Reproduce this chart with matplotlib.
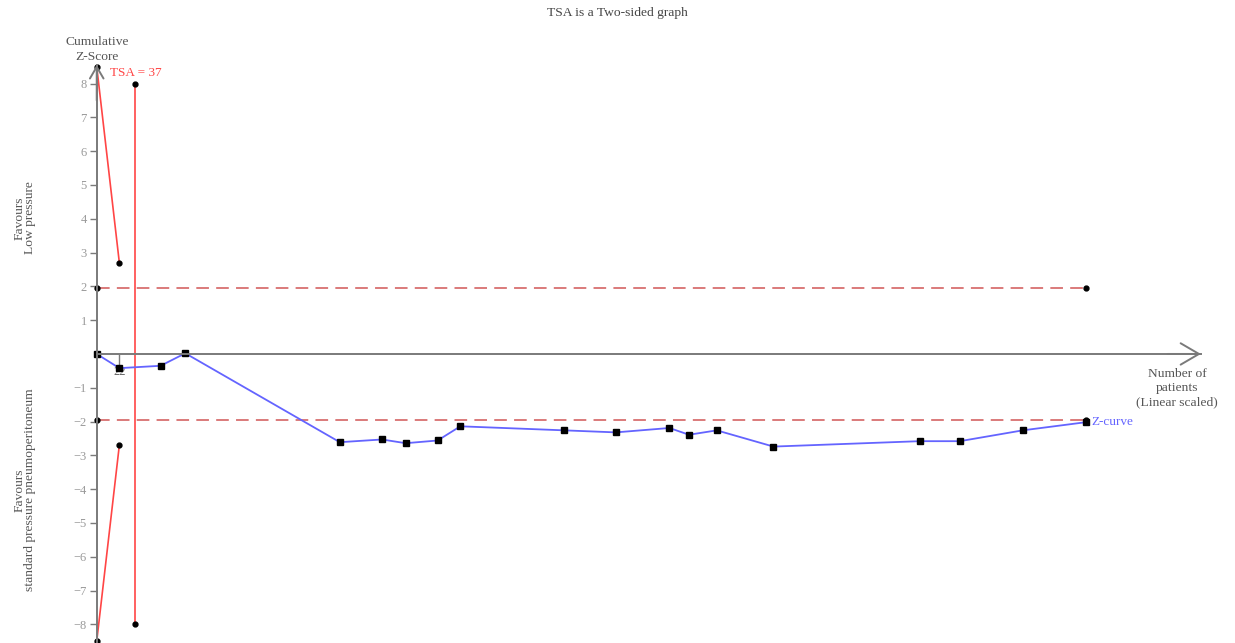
# Trial sequential analysis chart - two-sided boundaries with cumulative Z-curve
import numpy as np
import matplotlib.pyplot as plt

plt.rcParams['font.family'] = ['Liberation Serif', 'DejaVu Serif']

# cumulative number of patients and cumulative Z-score
patients = [0, 22, 62, 86, 236, 277, 300, 331, 353, 454, 504, 556, 575, 602, 657, 799, 838, 899, 960]
zscores = [0, -0.42, -0.35, 0.02, -2.61, -2.53, -2.64, -2.56, -2.14, -2.26, -2.32, -2.19,
           -2.39, -2.26, -2.74, -2.58, -2.58, -2.26, -2.02]

# monitoring boundaries (upper and lower, two-sided)
bound_x = [0, 22]
bound_upper = [8.5, 2.69]
bound_lower = [-8.5, -2.69]

# conventional significance line
conv_x = [0, 960]
conv_z = 1.96

# required information size
tsa = 37
tsa_z = 8

yticks = [-8, -7, -6, -5, -4, -3, -2, -1, 1, 2, 3, 4, 5, 6, 7, 8]
xticks = [22]

red = '#ff4545'
blue = '#6464ff'
dash_red = '#d87070'
grey = '#7a7a7a'
fs = 9.7


def main():
    fig = plt.figure(figsize=(12.35, 6.43), dpi=100)
    ax = fig.add_axes([0, 0, 1, 1])
    ax.set_xlim(-93.9, 1105.1)
    ax.set_ylim(-8.55, 10.47)

    # axes through the origin
    for side in ['top', 'right']:
        ax.spines[side].set_visible(False)
    ax.spines['left'].set_position(('data', 0))
    ax.spines['bottom'].set_position(('data', 0))
    ax.spines['left'].set_bounds(-8.55, 8.55)
    ax.spines['bottom'].set_bounds(0, 1072)
    for side in ['left', 'bottom']:
        ax.spines[side].set_color(grey)
        ax.spines[side].set_linewidth(1.4)
    ax.annotate('', xy=(0, 8.55), xytext=(0, 7.5),
                arrowprops=dict(arrowstyle='->,head_length=0.6,head_width=0.35',
                                color=grey, lw=1.4, mutation_scale=14, shrinkA=0, shrinkB=0))
    ax.annotate('', xy=(1072, 0), xytext=(1040, 0),
                arrowprops=dict(arrowstyle='->,head_length=0.6,head_width=0.35',
                                color=grey, lw=1.4, mutation_scale=22, shrinkA=0, shrinkB=0))

    ax.set_yticks(yticks)
    ax.set_yticklabels(['\u2212%d' % -t if t < 0 else str(t) for t in yticks])
    ax.tick_params(axis='y', direction='out', length=5, width=1, color=grey,
                   labelcolor='#9a9a9a', labelsize=9, pad=2)
    ax.set_xticks(xticks)
    ax.set_xticklabels([str(t) for t in xticks])
    ax.tick_params(axis='x', direction='out', length=8, width=1, color=grey,
                   labelcolor='#666666', labelsize=9, pad=1)

    # conventional boundaries
    for s in [1, -1]:
        ax.plot(conv_x, [s * conv_z] * 2, color=dash_red, lw=1.3, ls=(0, (7, 4)))
        ax.plot(conv_x, [s * conv_z] * 2, ls='none', marker='o', ms=3.5, color='black')

    # monitoring boundaries
    ax.plot(bound_x, bound_upper, color=red, lw=1.2, marker='o', ms=3.5, mfc='black', mec='black')
    ax.plot(bound_x, bound_lower, color=red, lw=1.2, marker='o', ms=3.5, mfc='black', mec='black')

    # required information size line
    ax.plot([tsa, tsa], [tsa_z, -tsa_z], color=red, lw=1.2, marker='o', ms=3.5, mfc='black', mec='black')
    ax.text(tsa - 24, tsa_z + 0.3, 'TSA = %d' % tsa, color=red, fontsize=9.5, va='center', ha='left')

    # Z-curve
    ax.plot(patients, zscores, color=blue, lw=1.3, marker='s', ms=4, mfc='black', mec='black')
    ax.text(patients[-1] + 6, zscores[-1], 'Z-curve', color=blue, fontsize=9.5, va='center', ha='left')

    fig.text(0.5, 1 - 13 / 643, 'TSA is a Two-sided graph', ha='center', va='center',
             fontsize=fs, color='#444444')
    fig.text(97 / 1235, 1 - 49.5 / 643, 'Cumulative\nZ-Score', ha='center', va='center',
             fontsize=fs, color='#555555', linespacing=1.3)
    fig.text(1177 / 1235, 1 - 388 / 643, 'Number of\npatients\n(Linear scaled)', ha='center',
             va='center', fontsize=fs, color='#555555', linespacing=1.25)
    fig.text(25 / 1235, 1 - 218 / 643, 'Favours\nLow pressure', ha='center', va='center',
             rotation=90, fontsize=fs, color='#555555', linespacing=0.85)
    fig.text(25 / 1235, 1 - 490 / 643, 'Favours\nstandard pressure pneumoperitoneum', ha='center',
             va='center', rotation=90, fontsize=fs, color='#555555', linespacing=0.85)

    fig.savefig('out.png', dpi=100)


if __name__ == '__main__':
    main()
